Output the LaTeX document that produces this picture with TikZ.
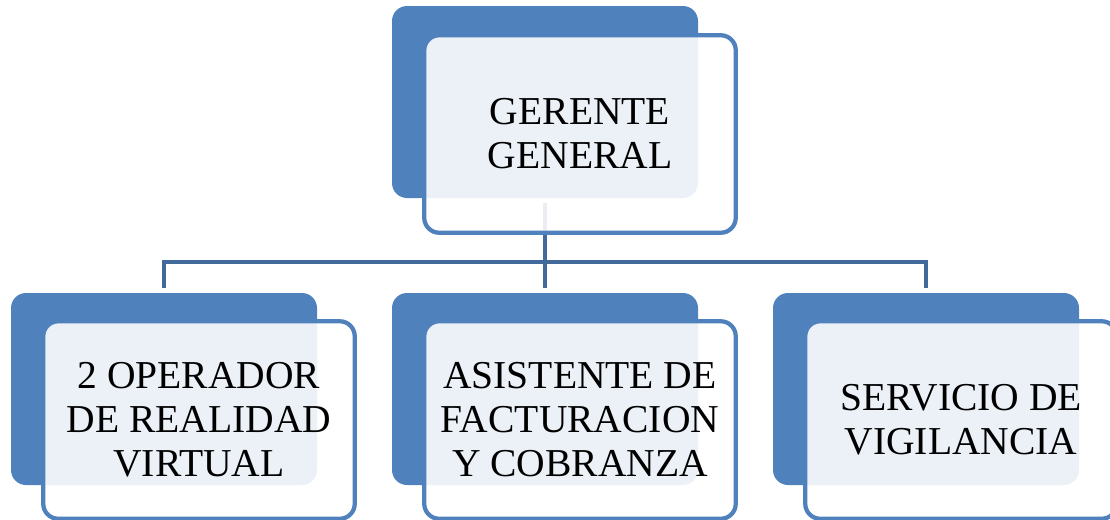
\documentclass[tikz,border=0pt]{standalone}
\usepackage{fontspec}
\setmainfont{Liberation Serif}
\usepackage{tikz}
\usetikzlibrary{calc}
\definecolor{myblue}{RGB}{79,129,189}
\definecolor{mylink}{RGB}{65,105,153}

\begin{document}
\begin{tikzpicture}[
  back/.style={fill=myblue, rounded corners=0.3cm, minimum width=6.12cm, minimum height=3.84cm, inner sep=0pt},
  front/.style={draw=myblue, line width=0.085cm, fill=white, fill opacity=0.89, text opacity=1, rounded corners=0.3cm,
    minimum width=6.23cm, minimum height=3.95cm, inner sep=0pt, align=center, font=\fontsize{22.5}{25}\selectfont},
  link/.style={draw=mylink, line width=0.08cm, shorten <=0.1cm, shorten >=0.1cm}]
  \useasboundingbox (0,0) rectangle (22.2,-10.38);
  \clip (0,0) rectangle (22.2,-10.38);

  % Back boxes
  \node[back] (g) at (10.9,-2.04) {};
  \node[back] (a) at (3.28,-7.78) {};
  \node[back] (b) at (10.9,-7.78) {};
  \node[back] (c) at (18.52,-7.78) {};

  % Lines
  \draw[link] (g.south) -- (b.north);
  \draw[link] (a.north) -- ++(0,0.62) -| (c.north);

  % Front boxes
  \node[front] (g2) at ($(g)+(0.7,-0.64)$) {GERENTE\\GENERAL};
  \node[front] (a2) at ($(a)+(0.7,-0.62)$) {2 OPERADOR\\DE REALIDAD\\VIRTUAL};
  \node[front] (b2) at ($(b)+(0.7,-0.62)$) {ASISTENTE DE\\FACTURACION\\Y COBRANZA};
  \node[front] (c2) at ($(c)+(0.7,-0.62)$) {SERVICIO DE\\VIGILANCIA};
\end{tikzpicture}
\end{document}
